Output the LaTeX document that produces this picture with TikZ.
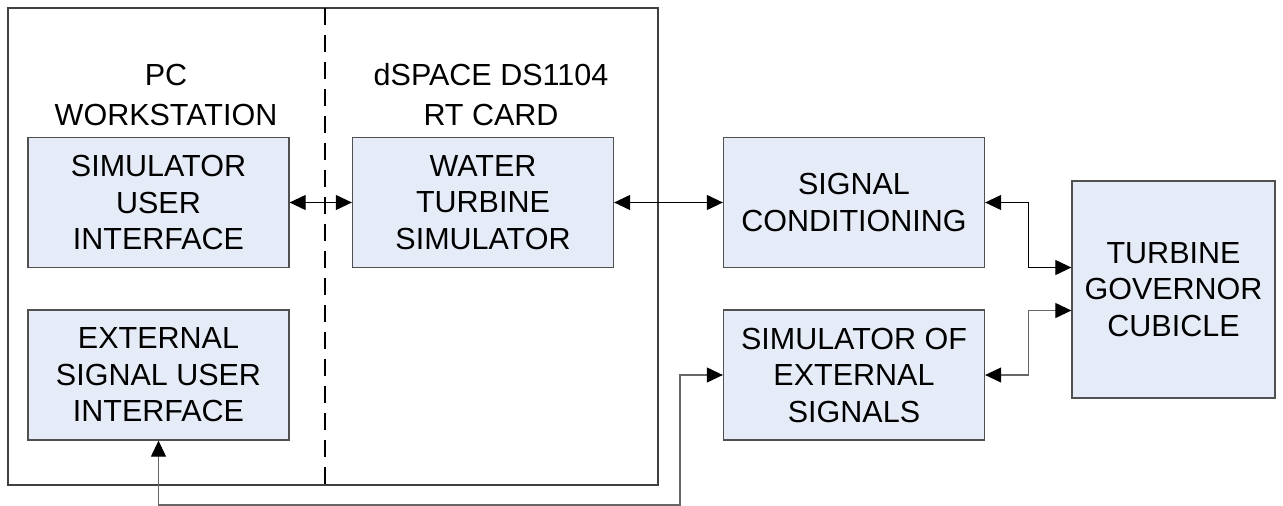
\documentclass[tikz,border=0pt]{standalone}
\usepackage{fontspec}
\setmainfont{Liberation Sans}
\usetikzlibrary{arrows.meta,calc}
\definecolor{boxfill}{RGB}{230,236,247}
\definecolor{boxline}{RGB}{80,80,80}
\tikzset{
  blk/.style={draw=boxline, line width=1.3pt, fill=boxfill, align=center,
    inner sep=0pt, font=\fontsize{30.5}{36.5}\selectfont},
  lbl/.style={align=center, inner sep=0pt, font=\fontsize{30.5}{40}\selectfont},
  conn/.style={line width=1.1pt, {Triangle[length=16pt,width=15pt]}-{Triangle[length=16pt,width=15pt]}},
  gconn/.style={conn, draw=black!60, {Triangle[length=16pt,width=15pt,color=black]}-{Triangle[length=16pt,width=15pt,color=black]}},
}
\begin{document}
\begin{tikzpicture}[x=1pt,y=-1pt]
\useasboundingbox (0,0) rectangle (1283,506);
% outer frame and divider
\node[draw=black!75, line width=1.2pt, minimum width=650pt, minimum height=477pt, inner sep=0pt] (outer) at (333,246.5) {};
\draw[line width=1.5pt, dash pattern=on 17pt off 10pt] (325,8) coordinate (dtop) -- (325,485) coordinate (dbot);
\node[lbl] (pc) at (166,95) {PC\\WORKSTATION};
\node[lbl] (ds) at (491,95) {dSPACE DS1104\\RT CARD};
% blocks
\node[blk, minimum width=261pt, minimum height=130pt] (sui) at (158.5,202.5) {SIMULATOR\\USER\\INTERFACE};
\node[blk, minimum width=261pt, minimum height=130pt] (esui) at (158.5,375) {EXTERNAL\\SIGNAL USER\\INTERFACE};
\node[blk, minimum width=261pt, minimum height=130pt] (wts) at (483,202.5) {WATER\\TURBINE\\SIMULATOR};
\node[blk, minimum width=261pt, minimum height=130pt] (sc) at (854,202.5) {SIGNAL\\CONDITIONING};
\node[blk, minimum width=261pt, minimum height=130pt] (soes) at (854,375) {SIMULATOR OF\\EXTERNAL\\SIGNALS};
\node[blk, minimum width=203pt, minimum height=217pt] (tgc) at (1173.5,289.5) {TURBINE\\GOVERNOR\\CUBICLE};
% connectors
\draw[conn] (sui.east) -- (wts.west);
\draw[conn] (wts.east) -- (sc.west);
\draw[conn] (sc.east) -- ++(43,0) |- ([yshift=22pt]tgc.west);
\draw[gconn] (soes.east) -- ++(43,0) |- ([yshift=-21pt]tgc.west);
\coordinate (bot) at (0,505);
\coordinate (vx) at (680,0);
\draw[gconn] (esui.south) -- (esui.south |- bot) -| (vx |- soes.west) -- (soes.west);
\end{tikzpicture}
\end{document}
